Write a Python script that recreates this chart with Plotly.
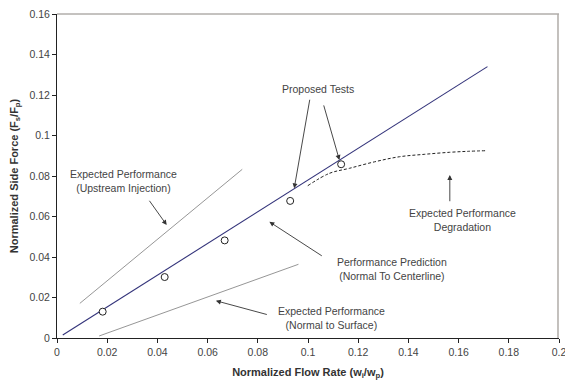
import plotly.graph_objects as go

# Performance prediction (normal to centerline)
pred_x = [0.0023, 0.1715]
pred_y = [0.0015, 0.1340]

# Proposed test points
test_x = [0.0182, 0.0429, 0.0668, 0.0929, 0.1132]
test_y = [0.0130, 0.0301, 0.0482, 0.0677, 0.0858]

# Expected performance degradation
degr_x = [0.0999, 0.1085, 0.1165, 0.1265, 0.1364, 0.1463, 0.1563, 0.1640, 0.1711]
degr_y = [0.0752, 0.0813, 0.0838, 0.0870, 0.0895, 0.0907, 0.0917, 0.0922, 0.0925]

# Expected performance (upstream injection)
up_x = [0.0091, 0.0738]
up_y = [0.0171, 0.0833]

# Expected performance (normal to surface)
surf_x = [0.0168, 0.0962]
surf_y = [0.0010, 0.0364]

x_ticks = [0, 0.02, 0.04, 0.06, 0.08, 0.1, 0.12, 0.14, 0.16, 0.18, 0.2]
x_labels = ["0", "0.02", "0.04", "0.06", "0.08", "0.1", "0.12", "0.14", "0.16", "0.18", "0.2"]
y_ticks = [0, 0.02, 0.04, 0.06, 0.08, 0.1, 0.12, 0.14, 0.16]
y_labels = ["0", "0.02", "0.04", "0.06", "0.08", "0.1", "0.12", "0.14", "0.16"]

# Callout labels: (text, x, y)
labels = [
    ("Expected Performance<br>(Upstream Injection)", 0.0263, 0.0775),
    ("Expected Performance<br>(Normal to Surface)", 0.1094, 0.0098),
    ("Performance Prediction<br>(Normal To Centerline)", 0.1335, 0.0341),
    ("Proposed Tests", 0.1041, 0.1228),
    ("Expected Performance<br>Degradation", 0.1614, 0.0585),
]

# Callout arrows: (tail_x, tail_y, head_x, head_y)
arrows = [
    (0.0364, 0.0685, 0.0437, 0.0558),
    (0.0842, 0.0114, 0.0633, 0.0184),
    (0.1061, 0.0401, 0.0846, 0.0574),
    (0.1008, 0.1184, 0.0945, 0.0739),
    (0.1061, 0.1156, 0.1125, 0.0879),
    (0.1565, 0.0668, 0.1565, 0.0805),
]

FONT = "Liberation Sans, Arial, sans-serif"

fig = go.Figure()
fig.add_trace(go.Scatter(x=up_x, y=up_y, mode="lines",
                         line=dict(color="#8a8a8a", width=0.9), hoverinfo="skip"))
fig.add_trace(go.Scatter(x=surf_x, y=surf_y, mode="lines",
                         line=dict(color="#8a8a8a", width=0.9), hoverinfo="skip"))
fig.add_trace(go.Scatter(x=degr_x, y=degr_y, mode="lines", line_shape="spline",
                         line=dict(color="#222222", width=1, dash="3px,2px")))
fig.add_trace(go.Scatter(x=pred_x, y=pred_y, mode="lines",
                         line=dict(color="#33337a", width=1.1)))
fig.add_trace(go.Scatter(x=test_x, y=test_y, mode="markers",
                         marker=dict(symbol="circle", size=7, color="white",
                                     line=dict(color="#222222", width=1))))

for text, x, y in labels:
    fig.add_annotation(x=x, y=y, text=text, showarrow=False, xref="x", yref="y",
                       font=dict(family=FONT, size=10.5, color="#444444"),
                       align="center")

for tx, ty, hx, hy in arrows:
    fig.add_annotation(x=hx, y=hy, ax=tx, ay=ty, xref="x", yref="y", axref="x", ayref="y",
                       text="", showarrow=True, arrowhead=2, arrowsize=1.1, arrowwidth=0.9,
                       arrowcolor="#333333", standoff=0, startstandoff=0)

# Frame on the top and right edges of the plot area
fig.add_shape(type="line", xref="paper", yref="paper", x0=0, x1=1, y0=1, y1=1,
              line=dict(color="#8a8580", width=1))
fig.add_shape(type="line", xref="paper", yref="paper", x0=0.998, x1=0.998, y0=0, y1=1,
              line=dict(color="#b0aca8", width=1.5))

fig.update_layout(
    width=565, height=381,
    margin=dict(l=57, r=6, t=14, b=43),
    paper_bgcolor="white", plot_bgcolor="white",
    showlegend=False,
    font=dict(family=FONT, size=10, color="#444444"),
    xaxis=dict(range=[0, 0.2], tickvals=x_ticks, ticktext=x_labels,
               ticklabeloverflow="allow", automargin=False,
               showgrid=False, zeroline=False, showline=True, linecolor="#222222", linewidth=1,
               ticks="outside", ticklen=4, tickcolor="#222222",
               tickfont=dict(size=10.5, color="#444444"),
               title=dict(text="<b>Normalized Flow Rate (w<sub>i</sub>/w<sub>p</sub>)</b>",
                          font=dict(size=11, color="#333333"), standoff=11)),
    yaxis=dict(range=[0, 0.16], tickvals=y_ticks, ticktext=y_labels,
               automargin=False,
               showgrid=False, zeroline=False, showline=True, linecolor="#222222", linewidth=1,
               ticks="outside", ticklen=4, tickcolor="#222222",
               tickfont=dict(size=10.5, color="#444444"),
               title=dict(text="<b>Normalized Side Force (F<sub>s</sub>/F<sub>p</sub>)</b>",
                          font=dict(size=11, color="#333333"), standoff=8)),
)

fig.write_html("out.html")
